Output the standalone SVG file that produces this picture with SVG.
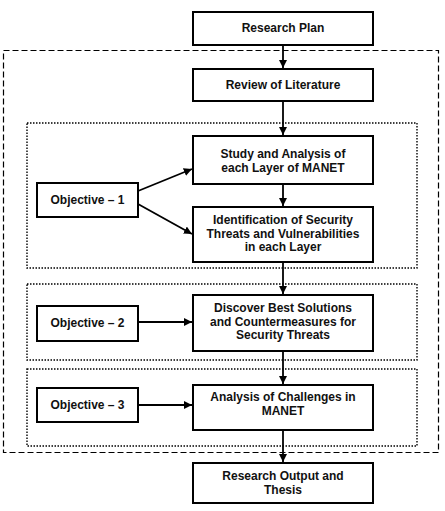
<svg xmlns="http://www.w3.org/2000/svg" width="445" height="511" viewBox="0 0 445 511">
<style>
.box{fill:#fff;stroke:#000;stroke-width:2}
.t{font-family:"Liberation Sans",Arial,sans-serif;font-weight:bold;font-size:12px;text-anchor:middle;fill:#111}
.c{fill:none;stroke:#000;stroke-width:1.8}
.dash{fill:none;stroke:#000;stroke-width:1.2;stroke-dasharray:6,3}
.dot{fill:none;stroke:#000;stroke-width:1.4;stroke-dasharray:1.5,1.5}
</style>
<defs>
<marker id="ah" viewBox="0 0 10 10" refX="10" refY="5" markerWidth="4.5" markerHeight="4.5" orient="auto" markerUnits="strokeWidth">
<path d="M0,0 L10,5 L0,10 z" fill="#000"/>
</marker>
</defs>
<rect class="dash" x="3.5" y="50.5" width="435" height="402"/>
<rect class="dot" x="27" y="123" width="390" height="145"/>
<rect class="dot" x="27" y="284" width="390" height="76"/>
<rect class="dot" x="27" y="369" width="390" height="77"/>
<g id="connectors">
<line class="c" x1="283" y1="45" x2="283" y2="68" marker-end="url(#ah)"/>
<line class="c" x1="283" y1="101" x2="283" y2="135" marker-end="url(#ah)"/>
<line class="c" x1="283" y1="184" x2="283" y2="206" marker-end="url(#ah)"/>
<line class="c" x1="283" y1="262" x2="283" y2="294" marker-end="url(#ah)"/>
<line class="c" x1="283" y1="351" x2="283" y2="384" marker-end="url(#ah)"/>
<line class="c" x1="283" y1="430" x2="283" y2="462" marker-end="url(#ah)"/>
<line class="c" x1="138" y1="191" x2="192" y2="169" marker-end="url(#ah)"/>
<line class="c" x1="138" y1="204" x2="192" y2="234" marker-end="url(#ah)"/>
<line class="c" x1="138" y1="322" x2="192" y2="322" marker-end="url(#ah)"/>
<line class="c" x1="138" y1="405" x2="192" y2="405" marker-end="url(#ah)"/>
</g>
<g id="research-plan"><rect class="box" x="193" y="12" width="180" height="33"/><text class="t" x="283" y="32">Research Plan</text></g>
<g id="review"><rect class="box" x="193" y="69" width="180" height="32"/><text class="t" x="283" y="89">Review of Literature</text></g>
<g id="study"><rect class="box" x="193" y="136" width="180" height="48"/><text class="t" x="283" y="158">Study and Analysis of</text><text class="t" x="283" y="172">each Layer of MANET</text></g>
<g id="objective-1"><rect class="box" x="37" y="183" width="101" height="34"/><text class="t" x="87.5" y="204">Objective – 1</text></g>
<g id="identification"><rect class="box" x="193" y="207" width="180" height="55"/><text class="t" x="283" y="224">Identification of Security</text><text class="t" x="283" y="237.5">Threats and Vulnerabilities</text><text class="t" x="283" y="251">in each Layer</text></g>
<g id="discover"><rect class="box" x="193" y="295" width="180" height="56"/><text class="t" x="283" y="312">Discover Best Solutions</text><text class="t" x="283" y="325.5">and Countermeasures for</text><text class="t" x="283" y="339">Security Threats</text></g>
<g id="objective-2"><rect class="box" x="37" y="306" width="101" height="35"/><text class="t" x="87.5" y="327">Objective – 2</text></g>
<g id="analysis"><rect class="box" x="193" y="385" width="180" height="45"/><text class="t" x="283" y="401">Analysis of Challenges in</text><text class="t" x="283" y="415">MANET</text></g>
<g id="objective-3"><rect class="box" x="37" y="388" width="101" height="34"/><text class="t" x="87.5" y="409">Objective – 3</text></g>
<g id="output"><rect class="box" x="193" y="463" width="180" height="40"/><text class="t" x="283" y="480">Research Output and</text><text class="t" x="283" y="494">Thesis</text></g>
</svg>
